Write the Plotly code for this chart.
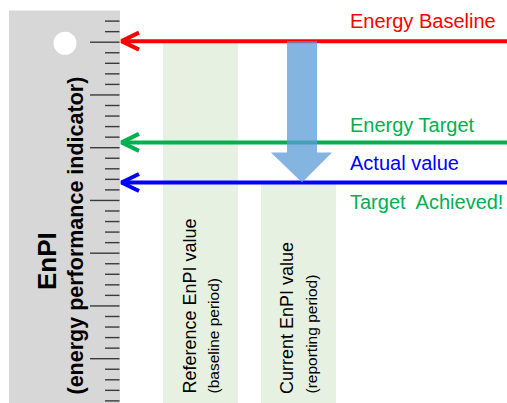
import plotly.graph_objects as go

# ---------------- data ----------------
ruler_ticks = list(range(1, 38))          # EnPI scale ticks (minor)
major_step = 5                            # every 5th tick is long
level_names = ["Energy Baseline", "Energy Target", "Actual value"]
level_values = [35.1, 25.5, 21.7]
level_colors = ["#FF0000", "#00B050", "#0000FF"]
period_labels = ["Reference EnPI value", "Current EnPI value"]
period_sublabels = ["(baseline period)", "(reporting period)"]
period_tops = [35.1, 21.7]                # column top = baseline / actual
axis_title = "EnPI"
axis_subtitle = "(energy performance indicator)"
result_label = "Target\u00a0 Achieved!"

# ---------------- layout constants ----------------
W, H = 507, 403
Y0, Y1 = 0.8, 39.0
PPU = H / (Y1 - Y0)                       # pixels per EnPI unit
FONT = "Liberation Sans, Arial, sans-serif"

def px(n):
    return n / PPU

fig = go.Figure()
shapes = []
annotations = []

# ruler body
shapes.append(dict(type="rect", xref="x", yref="y", x0=9, x1=120, y0=Y0 - 1, y1=38.0,
                   fillcolor="#D7D7D7", line_width=0, layer="below"))
# hole
shapes.append(dict(type="circle", xref="x", yref="y", x0=53.5, x1=76.5,
                   y0=34.9 - px(11.5), y1=34.9 + px(11.5),
                   fillcolor="white", line_width=0, layer="below"))

# ruler ticks
tx, ty = [], []
for t in ruler_ticks:
    x_start = 90 if t % major_step == 0 else 105
    tx += [x_start, 119.5, None]
    ty += [t, t, None]
fig.add_trace(go.Scatter(x=tx, y=ty, mode="lines", line=dict(color="#3A3A3A", width=1.4),
                         hoverinfo="skip", showlegend=False))

# period columns
col_x = [(163, 238), (261, 336)]
for (x0, x1), top in zip(col_x, period_tops):
    shapes.append(dict(type="rect", xref="x", yref="y", x0=x0, x1=x1, y0=Y0 - 1, y1=top,
                       fillcolor="#E7F1E1", line_width=0, layer="below"))

# level arrows
for name, val, col in zip(level_names, level_values, level_colors):
    fig.add_trace(go.Scatter(x=[121, W + 5], y=[val, val], mode="lines",
                             line=dict(color=col, width=4), hoverinfo="skip", showlegend=False))
    fig.add_trace(go.Scatter(x=[139, 121.5, 139], y=[val + px(8.5), val, val - px(8.5)],
                             mode="lines", line=dict(color=col, width=4),
                             hoverinfo="skip", showlegend=False))

# big down arrow from baseline to actual
top = level_values[0]
tip = level_values[2]
neck = tip + px(30)
path = (f"M 287,{top} L 317,{top} L 317,{neck} L 332,{neck} L 302,{tip} "
        f"L 271,{neck} L 287,{neck} Z")
shapes.append(dict(type="path", xref="x", yref="y", path=path,
                   fillcolor="#5B9BD5", opacity=0.75, line_width=0, layer="above"))

# level labels
label_shift = [20, 17, 20]
for name, val, col, s in zip(level_names, level_values, level_colors, label_shift):
    annotations.append(dict(x=348, y=val, xref="x", yref="y", text=name, showarrow=False,
                            xanchor="left", yanchor="middle", yshift=s,
                            font=dict(family=FONT, size=20, color=col)))
annotations.append(dict(x=348, y=level_values[2], xref="x", yref="y", text=result_label,
                        showarrow=False, xanchor="left", yanchor="middle", yshift=-19,
                        font=dict(family=FONT, size=20, color="#00B050")))

# vertical column labels
base_y = Y0 + px(H - 396)
for (x0, x1), lab, sub in zip(col_x, period_labels, period_sublabels):
    annotations.append(dict(x=x0 + 26, y=base_y, xref="x", yref="y", text=lab, showarrow=False,
                            textangle=-90, xanchor="center", yanchor="bottom",
                            font=dict(family=FONT, size=18, color="black")))
    annotations.append(dict(x=x0 + 50, y=base_y, xref="x", yref="y", text=sub, showarrow=False,
                            textangle=-90, xanchor="center", yanchor="bottom",
                            font=dict(family=FONT, size=15.5, color="black")))

# ruler titles
annotations.append(dict(x=47, y=Y0 + px(H - 261), xref="x", yref="y", text=f"<b>{axis_title}</b>",
                        showarrow=False, textangle=-90, xanchor="center", yanchor="middle",
                        font=dict(family=FONT, size=26, color="black")))
annotations.append(dict(x=75, y=Y0 + px(H - 235.5), xref="x", yref="y", text=f"<b>{axis_subtitle}</b>",
                        showarrow=False, textangle=-90, xanchor="center", yanchor="middle",
                        font=dict(family=FONT, size=21.5, color="black")))

fig.update_layout(
    width=W, height=H, margin=dict(l=0, r=0, t=0, b=0),
    paper_bgcolor="white", plot_bgcolor="white",
    xaxis=dict(range=[0, W], visible=False, fixedrange=True),
    yaxis=dict(range=[Y0, Y1], visible=False, fixedrange=True),
    shapes=shapes, annotations=annotations, showlegend=False,
)
fig.write_html("out.html", config={"displayModeBar": False},
               post_script="document.body.style.margin='0';document.body.style.overflow='hidden';")
